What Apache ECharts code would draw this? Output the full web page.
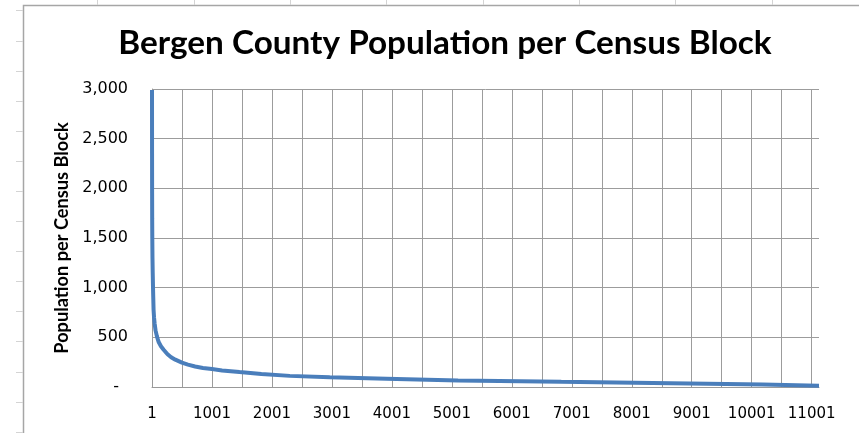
<!DOCTYPE html>
<html>
<head>
<meta charset="utf-8">
<script src="https://cdn.jsdelivr.net/npm/echarts@6/dist/echarts.min.js"></script>
<style>
  html, body { margin: 0; padding: 0; background: #ffffff; }
  #chart { width: 859px; height: 433px; }
</style>
</head>
<body>
<div id="chart"></div>
<script>
// Block rank (1 = most populous) and population
const blockRank = [1, 2, 3, 4, 6, 9, 13, 18, 22, 27, 35, 45, 60, 83, 110, 150, 195, 260, 320, 390,
  500, 600, 720, 850, 1000, 1170, 1460, 1480, 1825, 1840, 2300, 2310, 2965, 2975,
  3910, 3920, 5105, 5115, 6825, 6835, 8655, 8665, 10185, 10195, 11123];
const population = [2990, 2350, 1950, 1700, 1500, 1300, 1150, 1000, 900, 780, 700, 640, 570, 510, 455, 410, 375, 330, 300, 275,
  245, 225, 207, 192, 181, 167, 150, 140, 130, 121, 112, 103, 98, 88,
  84, 74, 66, 55, 52, 41, 38, 28, 25, 14, 13];
const yTicks = [0, 500, 1000, 1500, 2000, 2500, 3000];
const xLabelStep = 1000;
const xGridStep = 500;
const lastBlock = 11123;

const chart = echarts.init(document.getElementById('chart'), null, { renderer: 'canvas' });

const deco = [];
// chart-area border
deco.push({ type: 'polyline', silent: true, shape: { points: [[23.5, 433], [23.5, 5.5], [859, 5.5]] },
  style: { stroke: '#a6a6a6', lineWidth: 1.5, fill: null } });
// worksheet cell lines outside the chart
[97.5, 194.5, 290.5, 386.5, 483.5, 579.5, 675.5, 772.5].forEach(x => {
  deco.push({ type: 'line', silent: true, shape: { x1: x, y1: 0, x2: x, y2: 5 }, style: { stroke: '#d4d4d4', lineWidth: 1 } });
});
[10.5, 41.5, 71.5, 101.5, 131.5, 161.5, 191.5, 221.5, 251.5, 281.5, 311.5, 341.5, 372.5, 402.5, 432.5].forEach(y => {
  deco.push({ type: 'line', silent: true, shape: { x1: 16, y1: y, x2: 23, y2: y }, style: { stroke: '#d4d4d4', lineWidth: 1 } });
});
// title
deco.push({ type: 'text', silent: true, x: 445, y: 43,
  style: { text: 'Bergen County Population per Census Block', font: 'bold 33.3px Lato', fill: '#000000',
    align: 'center', verticalAlign: 'middle' } });

const option = {
  animation: false,
  backgroundColor: '#ffffff',
  grid: { left: 152, top: 89, right: 40, bottom: 46, containLabel: false, outerBoundsMode: 'none' },
  xAxis: {
    type: 'value',
    min: 0,
    max: lastBlock - 1,
    interval: xGridStep,
    axisLine: { show: true, lineStyle: { color: '#999999', width: 1 } },
    axisTick: { show: false },
    axisLabel: {
      margin: 20,
      fontFamily: 'DejaVu Sans',
      fontSize: 15,
      color: '#000000',
      showMaxLabel: false,
      formatter: v => (v % xLabelStep === 0 && v < lastBlock - 1) ? String(v + 1) : ''
    },
    splitLine: { show: true, showMaxLine: false, lineStyle: { color: '#9c9c9c', width: 1 } }
  },
  yAxis: {
    type: 'value',
    min: yTicks[0],
    max: yTicks[yTicks.length - 1],
    interval: yTicks[1] - yTicks[0],
    name: 'Population per Census Block',
    nameLocation: 'middle',
    nameGap: 80,
    nameTextStyle: { fontFamily: 'Lato', fontWeight: 'bold', fontSize: 18.2, color: '#000000' },
    axisLine: { show: true, lineStyle: { color: '#999999', width: 1 } },
    axisTick: { show: false },
    axisLabel: {
      margin: 24,
      fontFamily: 'DejaVu Sans',
      fontSize: 16,
      color: '#000000',
      formatter: v => v === 0 ? '{z|-}' : v.toLocaleString('en-US'),
      rich: { z: { fontFamily: 'DejaVu Sans', fontSize: 16, color: '#000000', padding: [0, 9, 0, 0] } }
    },
    splitLine: { show: true, lineStyle: { color: '#9c9c9c', width: 1 } }
  },
  series: [{
    type: 'line',
    data: blockRank.map((r, i) => [r - 1, population[i]]),
    showSymbol: false,
    symbol: 'none',
    lineStyle: { color: '#4a7ebb', width: 4 },
    clip: true
  }],
  graphic: { elements: deco }
};

chart.setOption(option);
</script>
</body>
</html>
